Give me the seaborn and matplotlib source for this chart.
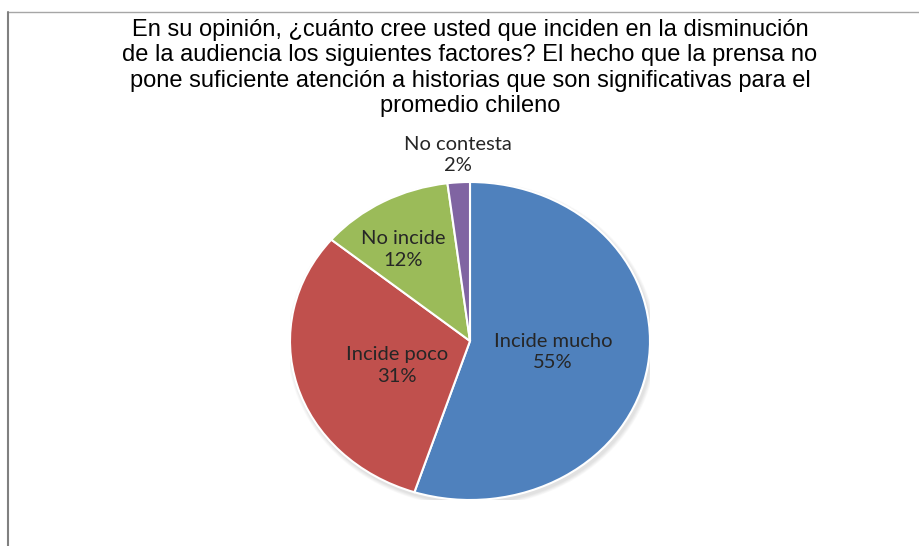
import matplotlib
matplotlib.use("Agg")
import matplotlib.pyplot as plt
import numpy as np
import seaborn as sns
from matplotlib.lines import Line2D
from matplotlib.patches import Ellipse

# Survey answers and their shares (%)
categories = ["Incide mucho", "Incide poco", "No incide", "No contesta"]
shares = [55, 31, 12, 2]
colors = ["#4F81BD", "#C0504D", "#9BBB59", "#8064A2"]
title_lines = [
    "En su opinión, ¿cuánto cree usted que inciden en la disminución",
    "de la audiencia los siguientes factores? El hecho que la prensa no",
    "pone suficiente atención a historias que son significativas para el",
    "promedio chileno",
]

sns.set_theme(style="white")
plt.rcParams["font.family"] = ["Lato", "DejaVu Sans"]

W, H = 919, 546
fig = plt.figure(figsize=(W / 100, H / 100), dpi=100)
fig.patch.set_facecolor("white")

# chart border (top and left edges visible)
fig.add_artist(Line2D([8 / W, 1.0], [1 - 12 / H, 1 - 12 / H], transform=fig.transFigure,
                      color="#A6A6A6", lw=1.0))
fig.add_artist(Line2D([8 / W, 8 / W], [0, 1 - 12 / H], transform=fig.transFigure,
                      color="#808080", lw=1.5))

# title, one line at a time
for i, line in enumerate(title_lines):
    fig.text(470 / W, 1 - (36 + 25.5 * i) / H, line, ha="center", va="baseline",
             fontsize=17, family=["Liberation Sans", "DejaVu Sans"], color="black")

# pie axes (slightly wider than tall)
cx, cy, rx, ry = 470, 341, 180, 159
ax = fig.add_axes([(cx - rx) / W, (H - cy - ry) / H, 2 * rx / W, 2 * ry / H])

# soft shadow under the pie
for k in range(6):
    grow = 0.004 * k
    ax.add_patch(Ellipse((0.01, -0.018), 2 + 2 * grow + 0.01, 2 + 2 * grow + 0.01,
                         facecolor="#000000", alpha=0.02, edgecolor="none", zorder=0))

wedges, _ = ax.pie(shares, colors=colors, startangle=90, counterclock=False,
                   wedgeprops=dict(edgecolor="white", linewidth=1.5, zorder=1))
ax.set_aspect("auto")
ax.set_xlim(-1, 1)
ax.set_ylim(-1, 1)
ax.axis("off")

# label placement: radial distance and small angular nudge per slice
label_r = [0.466, 0.433, 0.683, 1.172]
label_nudge = [0.5, 5.0, 4.2, -0.2]
for w, name, val, r, dth in zip(wedges, categories, shares, label_r, label_nudge):
    mid = np.deg2rad((w.theta1 + w.theta2) / 2 + dth)
    ax.text(r * np.cos(mid), r * np.sin(mid), f"{name}\n{val}%", ha="center",
            va="center", fontsize=14.5, color="#262626", linespacing=1.35, zorder=3)

fig.savefig("out.png", dpi=100, facecolor="white")
